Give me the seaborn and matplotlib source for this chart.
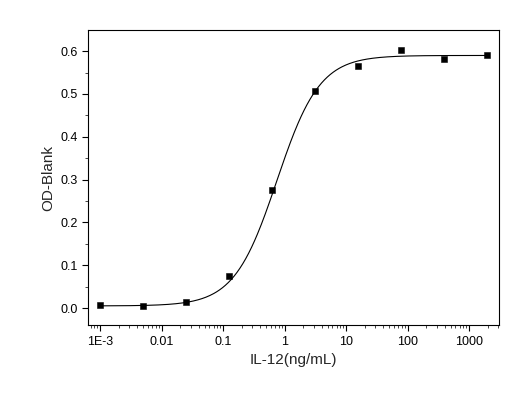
import numpy as np
import matplotlib
matplotlib.use("Agg")
import matplotlib.pyplot as plt
import seaborn as sns
from matplotlib.ticker import FixedLocator, FixedFormatter, LogLocator, MultipleLocator

conc = [0.001, 0.005, 0.025, 0.125, 0.625, 3.125, 15.625, 78.125, 390.625, 1953.125]
od = [0.008, 0.004, 0.015, 0.075, 0.275, 0.507, 0.565, 0.602, 0.582, 0.590]
xtick_vals = [1e-3, 1e-2, 1e-1, 1, 10, 100, 1000]
xtick_labels = ["1E-3", "0.01", "0.1", "1", "10", "100", "1000"]
# 4PL fit parameters
bottom, top, ec50, hill = 0.005, 0.590, 0.75, 1.25

sns.set_theme(style="ticks")
plt.rcParams['font.family'] = ['Arial', 'Liberation Sans', 'DejaVu Sans']
fig = plt.figure(figsize=(5.2, 4.08), dpi=100)
ax = fig.add_axes([0.17, 0.203, 0.79, 0.723])

xf = np.logspace(-3, np.log10(2000), 400)
yf = bottom + (top - bottom) / (1 + (ec50 / xf) ** hill)
sns.lineplot(x=xf, y=yf, ax=ax, color="black", lw=0.8)
sns.scatterplot(x=conc, y=od, ax=ax, color="black", marker="s", s=22, edgecolor="black")

ax.set_xscale("log")
ax.set_xlim(10 ** -3.19, 10 ** 3.49)
ax.set_ylim(-0.04, 0.649)
ax.xaxis.set_major_locator(FixedLocator(xtick_vals))
ax.xaxis.set_major_formatter(FixedFormatter(xtick_labels))
ax.xaxis.set_minor_locator(LogLocator(base=10, subs=np.arange(2, 10)))
ax.yaxis.set_major_locator(MultipleLocator(0.1))
ax.yaxis.set_minor_locator(MultipleLocator(0.05))
ax.yaxis.set_major_formatter(matplotlib.ticker.FormatStrFormatter("%.1f"))
ax.tick_params(which="major", direction="out", length=4, width=0.8, labelsize=9, colors="black")
ax.tick_params(which="minor", direction="out", length=2, width=0.6)
for s in ax.spines.values():
    s.set_linewidth(0.8)
    s.set_color("black")
ax.set_xlabel("IL-12(ng/mL)", fontsize=11)
ax.set_ylabel("OD-Blank", fontsize=11)
fig.savefig("out.png", dpi=100)
